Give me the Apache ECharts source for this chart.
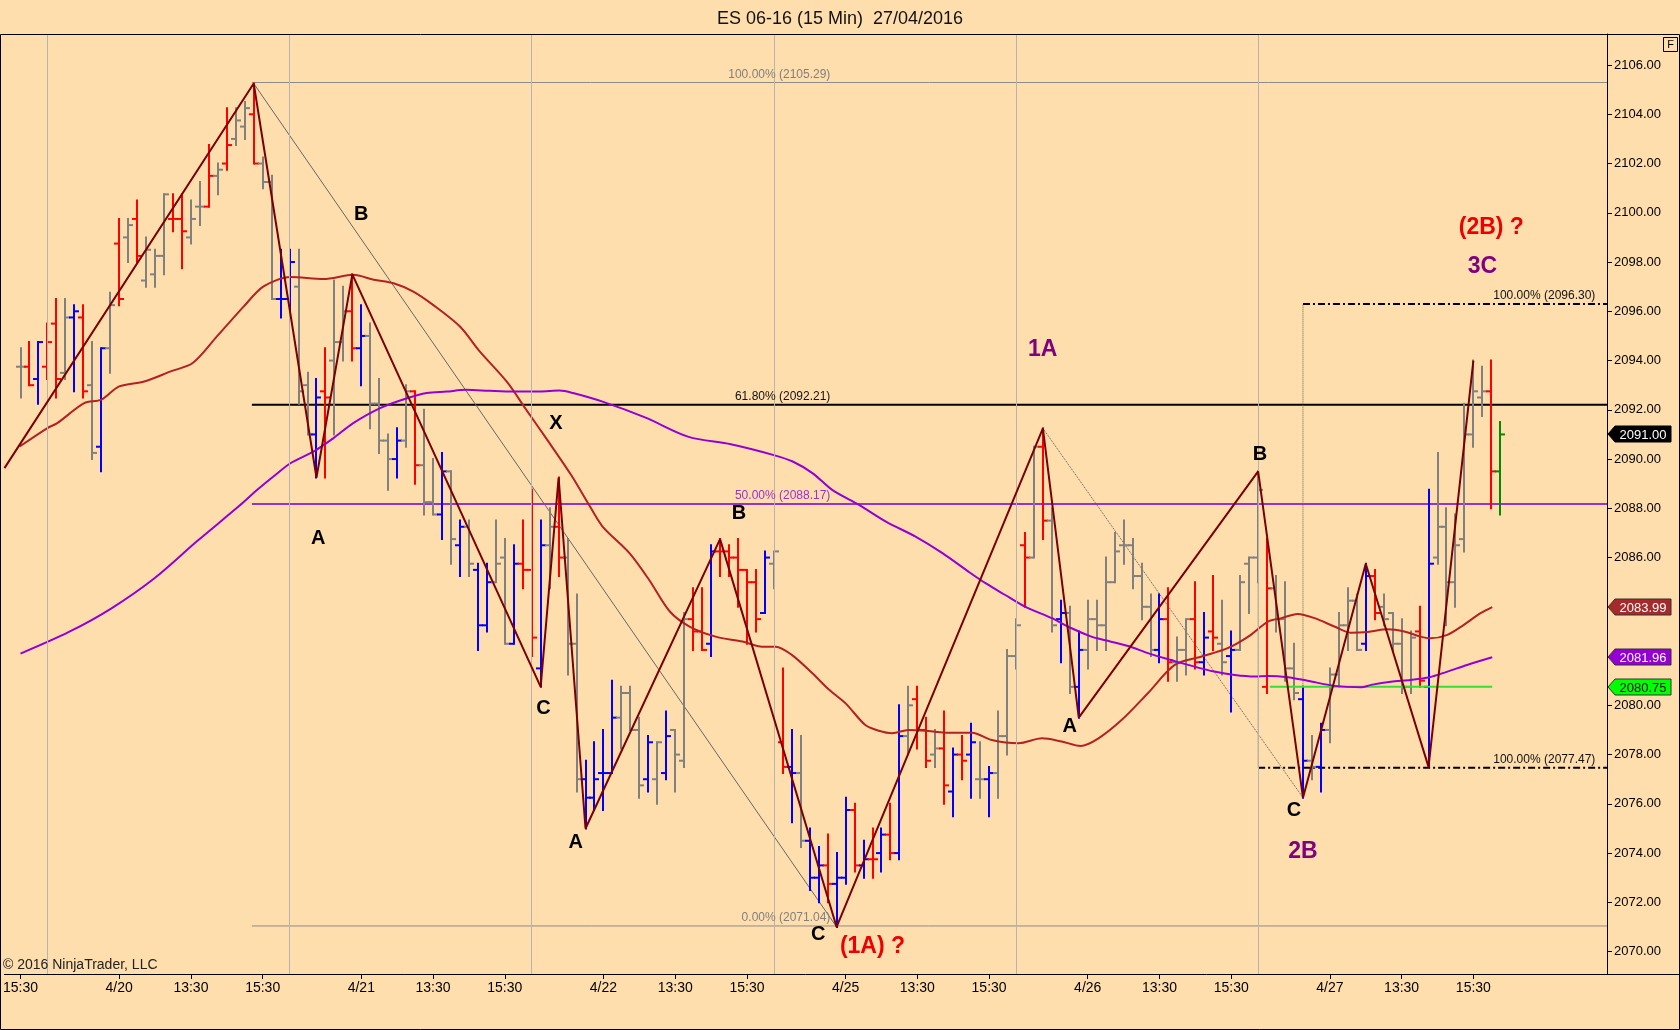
<!DOCTYPE html>
<html>
<head>
<meta charset="utf-8">
<title>ES 06-16 (15 Min)</title>
<script src="https://cdn.jsdelivr.net/npm/echarts@6/dist/echarts.min.js"></script>
<style>
html, body { margin: 0; padding: 0; background: #FFDEAD; }
#main { width: 1680px; height: 1030px; }
</style>
</head>
<body>
<div id="main"></div>
<script>
// ---- bars: 15 min OHLC, index 0 = first bar on screen ----
var barOpen = [2093.75,2093.75,2093.25,2093.75,2095.5,2093.5,2095.75,2095.75,2093,2090.5,
  2094.5,2098.75,2099,2099.75,2097.25,2097.5,2098.25,2099.75,2099.75,2099,
  2100.25,2100.25,2101.5,2102,2103,2103.5,2104,2102,2101.25,2096.5,
  2096.5,2097,2093,2091,2092.75,2094,2094.75,2096,2094.5,2095,
  2092.25,2090.75,2090,2090.75,2092.75,2089.75,2088.25,2087.75,2089.5,2086.5,
  2087.25,2085.5,2083.25,2085,2086,2082.5,2085.75,2085.5,2081.5,2086.5,
  2087.25,2086,2082.5,2077,2076.25,2077.25,2077.25,2079.5,2080.5,2079,
  2077,2077,2077.25,2079,2077.75,2083.5,2083,2082.5,2086.25,2086.25,
  2086,2085.5,2085,2083.75,2085.75,2078.5,2077.5,2077.25,2074.5,2073,
  2073.5,2072.75,2073,2075.75,2073.5,2073.75,2074,2074.75,2074,2078.75,
  2080.25,2079,2078,2078.25,2076.5,2078,2078,2077,2077,2077.25,
  2078.75,2082,2086.5,2086,2090.5,2087.5,2083.5,2083.75,2080.75,2082.25,
  2083.5,2083.25,2085,2086.5,2086.5,2085.25,2084,2082.25,2083.5,2081.75,
  2082.25,2083.5,2081.75,2083,2082.5,2082,2082.25,2085.75,2086,2080.75,
  2084.75,2083.5,2081.5,2080.25,2077.75,2077.5,2079,2081.25,2083.25,2084.25,
  2082.5,2085.25,2084,2083.75,2082.5,2080.75,2083,2080.75,2086,2087.25,
  2085,2086.75,2091,2092.5,2092.75,2089.5];
var barHigh = [2094.5,2094.75,2094.75,2095.5,2096.5,2096.5,2096.25,2096.25,2094.75,2094.5,
  2096.75,2099.75,2099.75,2100.5,2099,2098.5,2100.75,2100.75,2100.75,2100.5,
  2101.25,2102.75,2102,2104.25,2104.25,2104.5,2105.25,2102.25,2101.5,2098.5,
  2098.5,2098.5,2093.5,2093.25,2094.5,2097.25,2097,2097.5,2096.25,2095.5,
  2093.25,2091,2091.25,2093,2092.75,2092,2090,2090.25,2089.5,2087.5,
  2087.5,2085.75,2085.75,2087.5,2086.75,2086.5,2087.5,2088.75,2087.5,2088,
  2089.25,2086.75,2084.5,2077.75,2078.5,2079,2081,2080.75,2080.75,2079.5,
  2078.75,2078.5,2079.75,2079,2083.75,2084.75,2084.75,2086.5,2086.75,2086.5,
  2086.75,2085.5,2085.5,2086.25,2086.25,2081.5,2079,2078.75,2075,2074.25,
  2074.75,2074,2076.25,2076,2074.5,2075,2075,2076,2080,2080.75,
  2080.75,2079.5,2079,2079.75,2078.25,2078.75,2079.25,2078.5,2077.5,2079.75,
  2082.25,2083.5,2087,2090.5,2091.25,2088,2084.25,2084,2083,2084.25,
  2084.25,2086,2087,2087.5,2086.75,2085.75,2084.5,2084.5,2084.75,2082.75,
  2083.5,2085,2083.75,2085.25,2084.25,2083,2085.25,2086,2089.5,2086.75,
  2085.25,2085,2082.5,2080.75,2078.75,2079.25,2081.5,2083.75,2084.75,2084.5,
  2085.75,2085.5,2084.5,2083.75,2083.5,2083,2084,2088.75,2090.25,2088,
  2087.75,2092.25,2094,2093.75,2094,2091.5];
var barLow = [2092.5,2093,2092.25,2093.25,2092.5,2093.25,2092.75,2092.5,2090,2089.5,
  2093.5,2096.25,2098,2098,2097,2097,2097.5,2099.25,2097.75,2098.75,
  2099.5,2100.25,2100.75,2101.75,2102.75,2103,2102,2101,2096.5,2095.75,
  2095.75,2092.25,2091,2089.25,2089.25,2091,2094,2094,2093,2091.25,
  2090.25,2088.75,2089.25,2090.5,2089,2087.75,2087.75,2086.75,2085.75,2085.25,
  2085.25,2082.25,2083,2085,2082.5,2082.5,2084.75,2082,2080.75,2084.75,
  2085.25,2081.25,2076.5,2075,2075.75,2075.75,2077.25,2078.25,2079,2076.25,
  2076.5,2076,2077,2076.5,2077.5,2082.25,2082.25,2082,2085.25,2085.25,
  2084,2082.5,2083,2083.75,2084.75,2077.25,2075.25,2074.25,2072.5,2072,
  2072,2071,2072.75,2073.25,2073,2073,2073.25,2073.75,2073.75,2078,
  2078.25,2077.5,2077.5,2076,2075.5,2077,2076.25,2076.25,2075.5,2076.25,
  2078,2081.5,2084,2086,2086.75,2083,2081.75,2080.5,2079.5,2081.5,
  2082.25,2082.25,2085,2085.75,2084.75,2083.5,2082,2081.75,2081,2081,
  2081.25,2081.5,2081.25,2082.25,2081.25,2079.75,2082.25,2083.75,2085,2080.5,
  2083,2081,2080.25,2076.25,2077,2076.5,2078.5,2080.75,2082.25,2082.25,
  2082.25,2083.5,2083.25,2082.25,2080.5,2080.5,2080.75,2077.5,2085.75,2083.25,
  2084,2086.25,2090.5,2091.75,2088,2087.75];
var barClose = [2093.75,2093,2094.75,2094.75,2093.25,2095.75,2096,2092.75,2090.25,2094.5,
  2096.25,2096.5,2099.5,2098.25,2098.5,2098.25,2100.75,2099.75,2099.25,2099.75,
  2100.25,2101.5,2101.75,2102.75,2103.75,2104.25,2102,2101.25,2096.5,2096.5,
  2098,2092.75,2091,2092.5,2092.5,2094.75,2096,2094.5,2095,2092.25,
  2090.75,2090,2090.75,2092.75,2089.75,2088.25,2087.75,2089.5,2086.75,2087.25,
  2085.75,2083.25,2085,2085.75,2082.5,2085.75,2085.5,2082.75,2086.5,2087.25,
  2086,2082.5,2077,2076.25,2077,2077.25,2079.5,2080.5,2079,2076.75,
  2078.5,2078.5,2078.75,2078,2083.5,2083,2082.25,2086.25,2086.25,2086,
  2085.5,2085,2083.5,2086,2086.25,2077.5,2077.25,2074.5,2073,2073.5,
  2072.75,2073,2075.75,2073.5,2073.75,2073.75,2074.75,2074,2078.75,2080,
  2079,2077.75,2078.25,2076.75,2078,2077.75,2078.5,2077,2077.25,2078.75,
  2082,2083.25,2086,2090.5,2087.5,2083.25,2083.75,2080.75,2082.25,2083.5,
  2083.25,2085,2086.25,2086.5,2085.25,2084,2082.25,2083.5,2081.75,2082.25,
  2083.5,2081.75,2082.75,2082.75,2081.75,2082.25,2085,2086,2088.75,2084.75,
  2083.5,2081.5,2080.5,2077.75,2077.5,2079,2081.25,2083.25,2084.25,2082.25,
  2085.25,2083.75,2083.5,2082.5,2080.75,2082.75,2081,2085.75,2087.25,2085,
  2086.5,2091,2092.75,2092.75,2089.5,2091];
// r red, b blue, g gray, n green
var barColors = ('grbrrgbrgb' + 'grgrgggrrg' + 'grgrggrggb' + 'bggbrggrbg' + 'ggbgrggbgb' +
  'gbbggbrrbg' + 'rggbbbbggg' + 'bgbggrrbrr' + 'rrrbgrbgbb' + 'rbbrbrbrbg' +
  'rrgrbrbgbg' + 'ggrgrgbgbg' + 'gggggggbrg' + 'grbrgbgggr' + 'gggbgbgggg' +
  'brggggrbgg' + 'ggggrn').split('');

// ---- moving averages: [bar index, price] ----
var maFast = [[-0.1,2090.51],[3,2091.26],[4.1,2091.46],[7.1,2092.27],[9,2092.41],[11,2092.95],
  [13.8,2093.15],[16.75,2093.56],[19.2,2093.9],[21.9,2094.98],[24.9,2096.2],[27.1,2097.01],
  [30.1,2097.39],[33.8,2097.31],[37.1,2097.48],[39.4,2097.28],[41.6,2097.14],[43.8,2096.8],
  [46,2096.26],[49,2095.38],[51.2,2094.37],[54.2,2093.15],[56.4,2092.0],[58.6,2090.85],
  [61.4,2089.35],[63.5,2088.07],[64.9,2087.26],[67.9,2086.18],[70.1,2085.09],[72.4,2083.81],
  [74.6,2083.2],[77.5,2082.79],[80.5,2082.59],[82.7,2082.38],[84.2,2082.38],[86,2082.05],
  [88.3,2081.3],[90.2,2080.62],[92,2080.08],[94.2,2079.2],[95.7,2078.97],[97.2,2078.87],
  [99,2079.0],[100.9,2078.97],[103.1,2078.89],[106.1,2078.89],[108.3,2078.59],[111.3,2078.46],
  [113.9,2078.66],[116.1,2078.53],[118.2,2078.35],[120.2,2078.66],[122.8,2079.41],[125.7,2080.49],
  [128.7,2081.64],[131.7,2081.98],[134.6,2082.32],[136.9,2082.79],[139.1,2083.4],[140.6,2083.54],
  [142.4,2083.71],[144.3,2083.54],[146.5,2083.2],[148.3,2082.95],[150.2,2082.98],[152.4,2083.09],
  [154.3,2083.0],[156.1,2082.79],[157.2,2082.72],[159.1,2082.86],[160.9,2083.26],[162.8,2083.74],
  [164.1,2083.99]];
var maSlow = [[0,2082.1],[5.4,2082.98],[10.1,2083.93],[14.9,2085.15],[19.7,2086.67],[24.4,2088.1],
  [26.4,2088.75],[28.2,2089.29],[30.1,2089.83],[32.7,2090.31],[34.9,2090.85],[37.1,2091.46],
  [40.1,2092.07],[43.1,2092.47],[45.3,2092.68],[47.5,2092.74],[49.7,2092.81],[52.3,2092.77],
  [54.9,2092.74],[57.9,2092.74],[60.1,2092.78],[61.6,2092.68],[64.9,2092.33],[69.7,2091.68],
  [74.5,2090.9],[79.2,2090.6],[84,2090.16],[86.1,2089.9],[88.3,2089.43],[90.5,2088.75],
  [93.5,2088.14],[96.5,2087.46],[99.8,2086.85],[102.8,2086.18],[105.7,2085.43],[107.6,2084.96],
  [109.8,2084.48],[112,2084.01],[115,2083.54],[117.2,2083.13],[119.4,2082.79],[120.5,2082.68],
  [123.5,2082.41],[125.7,2082.12],[128.3,2081.84],[130.9,2081.57],[133.1,2081.37],[135.4,2081.23],
  [137.6,2081.17],[139.1,2081.19],[141.3,2081.14],[143.5,2081.0],[146.5,2080.79],[149.5,2080.73],
  [150.6,2080.83],[152.8,2080.96],[155,2081.03],[157.1,2081.14],[159.1,2081.37],[161.3,2081.64],
  [164.1,2081.95]];

// ---- zigzag swing points ----
var zigzag = [[-1.79,2089.63],[26,2105.25],[33,2089.25],[37,2097.5],[58,2080.75],[60,2089.25],
  [63,2075.0],[78,2086.75],[91,2071.0],[114,2091.25],[118,2079.5],[138,2089.5],[143,2076.25],
  [150,2085.75],[157,2077.5],[162,2094.0]];

// ---- fibonacci levels ----
var fibPrices = [2105.29, 2092.21, 2088.17, 2071.04];
var fibTexts = ['100.00% (2105.29)', '61.80% (2092.21)', '50.00% (2088.17)', '0.00% (2071.04)'];
var fibStart = 25.8;
var extPrices = [2096.30, 2077.47];
var extTexts = ['100.00% (2096.30)', '100.00% (2077.47)'];
var extStart = [143, 138];
var sessionOpen = { from: 139.3, to: 164.1, price: 2080.75 };

// ---- wave labels ----
var labelIdx = [38.0, 33.2, 59.7, 58.3, 61.9, 80.1, 88.96, 95.0, 113.98, 117.0, 138.2, 142.0, 143.0, 164.0, 163.0];
var labelPrice = [2099.92, 2086.76, 2091.43, 2079.86, 2074.45, 2087.78, 2070.68, 2070.2, 2094.44, 2079.13, 2090.18, 2075.72, 2074.06, 2099.39, 2097.81];
var labelText = ['B', 'A', 'X', 'C', 'A', 'B', 'C', '(1A) ?', '1A', 'A', 'B', 'C', '2B', '(2B) ?', '3C'];
var labelKind = [0, 0, 0, 0, 0, 0, 0, 1, 2, 0, 0, 0, 2, 1, 2];

// ---- axes ----
var xLabelIdx = [0, 11, 19, 27, 38, 46, 54, 65, 73, 81, 92, 100, 108, 119, 127, 135, 146, 154, 162];
var xLabelText = ['15:30', '4/20', '13:30', '15:30', '4/21', '13:30', '15:30', '4/22', '13:30', '15:30',
  '4/25', '13:30', '15:30', '4/26', '13:30', '15:30', '4/27', '13:30', '15:30'];
var sessionBreaks = [3, 30, 57, 84, 111, 138];
var yTicks = [2070, 2072, 2074, 2076, 2078, 2080, 2082, 2084, 2086, 2088, 2090, 2092, 2094, 2096, 2098, 2100, 2102, 2104, 2106];
var tagPrices = [2091.00, 2083.99, 2081.96, 2080.75];

var xMin = -1.79, xMax = 176.9, yMin = 2069.09, yMax = 2107.26;

var FONT = '"Liberation Sans", Arial, sans-serif';
var NARROW = '"Liberation Sans Narrow", "Arial Narrow", "Liberation Sans", sans-serif';
var palette = { r: '#FF0000', b: '#0000FF', g: '#808080', n: '#008A00' };
var tagFill = ['#000000', '#A52A2A', '#9400D3', '#00FF00'];
var tagText = ['#FFFFFF', '#FFFFFF', '#FFFFFF', '#000000'];

var barData = barOpen.map(function (o, i) {
  return [i, o, barHigh[i], barLow[i], barClose[i]];
});

function renderBar(params, api) {
  var i = api.value(0);
  var h = api.coord([i, api.value(2)]);
  var l = api.coord([i, api.value(3)]);
  var o = api.coord([i, api.value(1)]);
  var c = api.coord([i, api.value(4)]);
  var col = palette[barColors[params.dataIndex]];
  var x = Math.round(h[0]);
  var st = { stroke: col, lineWidth: 2 };
  return {
    type: 'group',
    children: [
      { type: 'line', shape: { x1: x, y1: h[1] - 1, x2: x, y2: l[1] + 1 }, style: st },
      { type: 'line', shape: { x1: x - 5, y1: o[1], x2: x, y2: o[1] }, style: st },
      { type: 'line', shape: { x1: x, y1: c[1], x2: x + 5, y2: c[1] }, style: st }
    ]
  };
}

function renderLabel(params, api) {
  var p = api.coord([api.value(0), api.value(1)]);
  var k = labelKind[params.dataIndex];
  var fill = k === 0 ? '#000000' : (k === 1 ? '#EE0000' : '#800080');
  var size = k === 0 ? 20 : 23;
  return {
    type: 'text', x: p[0], y: p[1],
    style: { text: labelText[params.dataIndex], fill: fill, font: 'bold ' + size + 'px ' + FONT,
      align: 'center', verticalAlign: 'middle' }
  };
}

function renderFibText(params, api) {
  var p = api.coord([api.value(0), api.value(1)]);
  var colors = ['#808080', '#111111', '#9932CC', '#808080'];
  return {
    type: 'text', x: p[0], y: p[1] - 2,
    style: { text: fibTexts[params.dataIndex], fill: colors[params.dataIndex], font: '12px ' + FONT,
      align: 'right', verticalAlign: 'bottom' }
  };
}

function renderExtText(params, api) {
  var p = api.coord([api.value(0), api.value(1)]);
  return {
    type: 'text', x: p[0], y: p[1] - 2,
    style: { text: extTexts[params.dataIndex], fill: '#111111', font: '12px ' + FONT,
      align: 'right', verticalAlign: 'bottom' }
  };
}

function renderTag(params, api) {
  var y = Math.round(api.coord([xMax, api.value(1)])[1]);
  var x0 = params.coordSys.x + params.coordSys.width + 1;
  var k = params.dataIndex;
  var hh = 8, w = 56;
  return {
    type: 'group',
    children: [
      { type: 'polygon',
        shape: { points: [[x0, y], [x0 + 7, y - hh], [x0 + 7 + w, y - hh], [x0 + 7 + w, y + hh], [x0 + 7, y + hh]] },
        style: { fill: tagFill[k], stroke: k === 0 ? '#000' : '#333', lineWidth: 1 } },
      { type: 'text', x: x0 + 7 + w / 2, y: y + 1,
        style: { text: api.value(1).toFixed(2), fill: tagText[k], font: '13px ' + FONT,
          align: 'center', verticalAlign: 'middle' } }
    ]
  };
}

function hLine(name, pts, color, width, type, z) {
  return {
    name: name, type: 'line', data: pts, showSymbol: false, silent: true, z: z || 2,
    lineStyle: { color: color, width: width, type: type || 'solid' }
  };
}

var series = [];

// fibonacci retracement lines
var fibColors = ['#8C8C8C', '#000000', '#9932CC', '#8C8C8C'];
var fibWidths = [1, 2, 2, 1];
fibPrices.forEach(function (p, i) {
  series.push(hLine('fib' + i, [[fibStart, p], [xMax, p]], fibColors[i], fibWidths[i], 'solid', 1));
});
extPrices.forEach(function (p, i) {
  series.push(hLine('ext' + i, [[extStart[i], p], [xMax, p]], '#000000', 2, [7, 3, 2, 3], 1));
});
// guide lines
series.push(hLine('trend1', [zigzag[1], zigzag[8]], '#666666', 1, 'solid', 1));
series.push(hLine('trend2', [zigzag[9], zigzag[12]], '#555555', 1, 'dotted', 1));
series.push(hLine('vert1', [[143, zigzag[12][1]], [143, extPrices[0]]], '#666666', 1, 'dotted', 1));
series.push(hLine('vert2', [[138, zigzag[11][1]], [138, extPrices[1]]], '#666666', 1, 'dotted', 1));

// OHLC bars with session separators
series.push({
  name: 'ES', type: 'custom', renderItem: renderBar, data: barData, z: 3,
  encode: { x: 0, y: [1, 2, 3, 4] },
  markLine: {
    silent: true, symbol: 'none', label: { show: false },
    lineStyle: { color: '#B4B4B4', width: 1, type: 'solid' },
    data: sessionBreaks.map(function (v) { return { xAxis: v }; })
  }
});

series.push(hLine('open', [[sessionOpen.from, sessionOpen.price], [sessionOpen.to, sessionOpen.price]], '#33E033', 2, 'solid', 4));
series.push({ name: 'maFast', type: 'line', data: maFast, showSymbol: false, smooth: 0.3, silent: true, z: 4,
  lineStyle: { color: '#B22222', width: 2 } });
series.push({ name: 'maSlow', type: 'line', data: maSlow, showSymbol: false, smooth: 0.3, silent: true, z: 4,
  lineStyle: { color: '#9400D3', width: 2 } });
series.push({ name: 'zigzag', type: 'line', data: zigzag, showSymbol: false, silent: true, z: 5,
  lineStyle: { color: '#7A0000', width: 2 } });

// texts
series.push({ type: 'custom', renderItem: renderFibText, z: 6, clip: false,
  data: fibPrices.map(function (p) { return [90.3, p]; }) });
series.push({ type: 'custom', renderItem: renderExtText, z: 6, clip: false,
  data: extPrices.map(function (p) { return [175.6, p]; }) });
series.push({ type: 'custom', renderItem: renderLabel, z: 7, clip: false,
  data: labelIdx.map(function (x, i) { return [x, labelPrice[i]]; }) });
series.push({ type: 'custom', renderItem: renderTag, z: 7, clip: false,
  data: tagPrices.map(function (p) { return [xMax, p]; }) });

var chart = echarts.init(document.getElementById('main'));
chart.setOption({
  animation: false,
  backgroundColor: '#FFDEAD',
  title: {
    text: 'ES 06-16 (15 Min)  27/04/2016', left: 'center', top: 5,
    textStyle: { fontFamily: FONT, fontSize: 18, fontWeight: 'normal', color: '#111' }
  },
  grid: { left: 0, right: 73, top: 34, bottom: 56, containLabel: false },
  xAxis: {
    type: 'value', min: xMin, max: xMax,
    axisLine: { show: true, onZero: false, lineStyle: { color: '#000', width: 1 } },
    axisTick: { show: true, customValues: xLabelIdx, length: 5, lineStyle: { color: '#000' } },
    axisLabel: {
      customValues: xLabelIdx, margin: 7, color: '#000', fontFamily: NARROW, fontSize: 14,
      formatter: function (v) {
        var k = xLabelIdx.indexOf(Math.round(v));
        return k >= 0 ? xLabelText[k] : '';
      }
    },
    splitLine: { show: false }
  },
  yAxis: {
    type: 'value', position: 'right', min: yMin, max: yMax, scale: true,
    axisLine: { show: true, onZero: false, lineStyle: { color: '#000', width: 1 } },
    axisTick: { show: true, customValues: yTicks, length: 5, lineStyle: { color: '#000' } },
    axisLabel: {
      customValues: yTicks, margin: 7, color: '#000', fontFamily: FONT, fontSize: 13,
      formatter: function (v) { return v.toFixed(2); }
    },
    splitLine: { show: false }
  },
  graphic: [
    { type: 'rect', shape: { x: 0.5, y: 34.5, width: 1679, height: 995 },
      style: { fill: 'none', stroke: '#000', lineWidth: 1 }, z: 10 },
    { type: 'line', shape: { x1: 1607, y1: 974.5, x2: 1680, y2: 974.5 },
      style: { stroke: '#000', lineWidth: 1 }, z: 10 },
    { type: 'rect', shape: { x: 1663.5, y: 37.5, width: 14, height: 14 },
      style: { fill: '#FFDEAD', stroke: '#000', lineWidth: 1 }, z: 10 },
    { type: 'text', x: 1670.5, y: 45, z: 11,
      style: { text: 'F', font: '11px ' + FONT, fill: '#000', align: 'center', verticalAlign: 'middle' } },
    { type: 'text', x: 3, y: 958, z: 11,
      style: { text: '\u00A9 2016 NinjaTrader, LLC', font: '14px ' + NARROW, fill: '#222' } }
  ],
  series: series
});
</script>
</body>
</html>
